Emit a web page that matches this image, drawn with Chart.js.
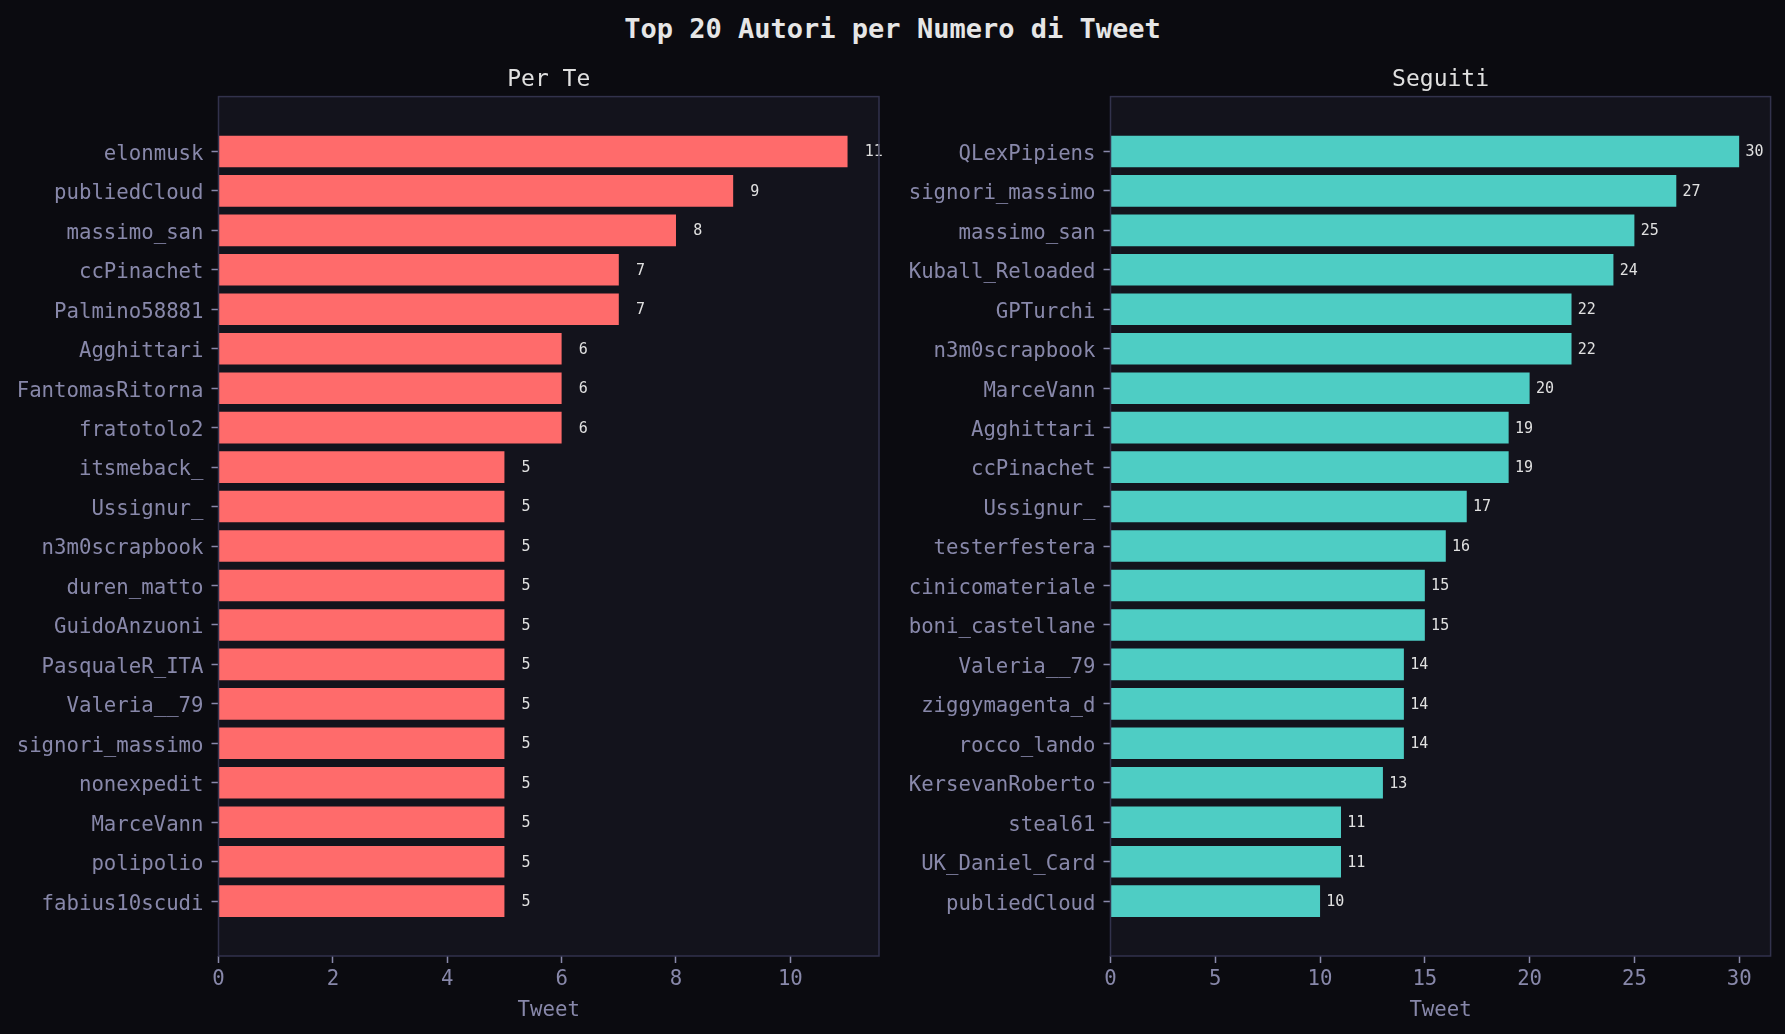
<!DOCTYPE html>
<html>
<head>
<meta charset="utf-8">
<script src="https://cdn.jsdelivr.net/npm/chart.js@4"></script>
<style>
  html, body { margin: 0; padding: 0; background: #0b0b10; }
  #wrap { position: relative; width: 1785px; height: 1034px; overflow: hidden; }
  #title {
    position: absolute; left: 0; top: 13px; width: 1785px; text-align: center;
    font: bold 27px "DejaVu Sans Mono", monospace; color: #e6e6e6; line-height: 32px;
  }
  canvas { position: absolute; top: 0; }
  #left { left: 0; }
  #right { left: 892px; }
</style>
</head>
<body>
<div id="wrap">
  <div id="title">Top 20 Autori per Numero di Tweet</div>
  <canvas id="left" width="892" height="1034"></canvas>
  <canvas id="right" width="893" height="1034"></canvas>
</div>
<script>
const perTeAuthors = ['elonmusk', 'publiedCloud', 'massimo_san', 'ccPinachet', 'Palmino58881', 'Agghittari',
    'FantomasRitorna', 'fratotolo2', 'itsmeback_', 'Ussignur_', 'n3m0scrapbook', 'duren_matto', 'GuidoAnzuoni',
    'PasqualeR_ITA', 'Valeria__79', 'signori_massimo', 'nonexpedit', 'MarceVann', 'polipolio', 'fabius10scudi'];
const perTeCounts = [11, 9, 8, 7, 7, 6, 6, 6, 5, 5, 5, 5, 5, 5, 5, 5, 5, 5, 5, 5];
const perTeTicks = [0, 2, 4, 6, 8, 10];

const seguitiAuthors = ['QLexPipiens', 'signori_massimo', 'massimo_san', 'Kuball_Reloaded', 'GPTurchi', 'n3m0scrapbook',
    'MarceVann', 'Agghittari', 'ccPinachet', 'Ussignur_', 'testerfestera', 'cinicomateriale', 'boni_castellane',
    'Valeria__79', 'ziggymagenta_d', 'rocco_lando', 'KersevanRoberto', 'steal61', 'UK_Daniel_Card', 'publiedCloud'];
const seguitiCounts = [30, 27, 25, 24, 22, 22, 20, 19, 19, 17, 16, 15, 15, 14, 14, 14, 13, 11, 11, 10];
const seguitiTicks = [0, 5, 10, 15, 20, 25, 30];

const FONT = '"DejaVu Sans Mono", monospace';
const labelColor = '#8888aa';
const spineColor = '#32324c';
const plotBg = '#13131c';

// plot background + the four spines
const framePlugin = {
    id: 'frame',
    beforeDraw(chart) {
        const a = chart.chartArea, ctx = chart.ctx;
        ctx.save();
        ctx.fillStyle = plotBg;
        ctx.fillRect(a.left, a.top, a.right - a.left, a.bottom - a.top);
        ctx.restore();
    },
    afterDraw(chart) {
        const a = chart.chartArea, ctx = chart.ctx;
        ctx.save();
        ctx.strokeStyle = spineColor;
        ctx.lineWidth = 1.5;
        ctx.strokeRect(a.left, a.top, a.right - a.left, a.bottom - a.top);
        ctx.restore();
    }
};

// count next to each bar
const valuePlugin = {
    id: 'values',
    afterDatasetsDraw(chart) {
        const ctx = chart.ctx;
        const xs = chart.scales.x, ys = chart.scales.y;
        ctx.save();
        ctx.fillStyle = '#e0e0e0';
        ctx.font = '15px ' + FONT;
        ctx.textAlign = 'left';
        ctx.textBaseline = 'middle';
        chart.data.datasets[0].data.forEach(p => {
            ctx.fillText(String(p.x), xs.getPixelForValue(p.x + 0.3), ys.getPixelForValue(p.y) + 1);
        });
        ctx.restore();
    }
};

function makeChart(id, title, names, counts, ticks, color) {
    const maxVal = Math.max(...counts) * 1.05;
    return new Chart(document.getElementById(id), {
        type: 'bar',
        data: {
            datasets: [{
                data: counts.map((v, i) => ({ x: v, y: i })),
                backgroundColor: color,
                borderWidth: 0,
                barPercentage: 0.8,
                categoryPercentage: 1.0
            }]
        },
        plugins: [framePlugin, valuePlugin],
        options: {
            indexAxis: 'y',
            responsive: false,
            animation: false,
            devicePixelRatio: 1,
            layout: { padding: { left: 0, right: id === 'left' ? 13 : 14.4, top: 0, bottom: 0 } },
            plugins: {
                legend: { display: false },
                tooltip: { enabled: false },
                title: {
                    display: true,
                    text: title,
                    fullSize: false,
                    color: '#e0e0e0',
                    font: { family: FONT, size: 23, weight: 'normal' },
                    padding: { top: 66, bottom: 3 }
                }
            },
            scales: {
                x: {
                    type: 'linear',
                    min: 0,
                    max: maxVal,
                    afterBuildTicks: (scale) => { scale.ticks = ticks.map(v => ({ value: v })); },
                    afterFit: (scale) => { scale.height = 78; },
                    grid: { drawOnChartArea: false, drawTicks: true, tickLength: 7, tickColor: labelColor, tickWidth: 1.5 },
                    border: { display: false },
                    ticks: { color: labelColor, font: { family: FONT, size: 20.7 }, padding: 4 },
                    title: {
                        display: true, text: 'Tweet', color: labelColor,
                        font: { family: FONT, size: 20.7 }, padding: { top: 11, bottom: 11 }
                    }
                },
                y: {
                    type: 'linear',
                    reverse: true,
                    offset: false,
                    min: -1.39,
                    max: 20.39,
                    afterBuildTicks: (scale) => { scale.ticks = names.map((_, i) => ({ value: i })); },
                    afterFit: (scale) => { scale.width = 218.5; },
                    grid: { offset: false, drawOnChartArea: false, drawTicks: true, tickLength: 7, tickColor: labelColor, tickWidth: 1.5 },
                    border: { display: false },
                    ticks: {
                        color: labelColor, font: { family: FONT, size: 20.7 }, padding: 8, autoSkip: false,
                        labelOffset: 3,
                        callback: (v) => names[v]
                    }
                }
            }
        }
    });
}

makeChart('left', 'Per Te', perTeAuthors, perTeCounts, perTeTicks, '#ff6b6b');
makeChart('right', 'Seguiti', seguitiAuthors, seguitiCounts, seguitiTicks, '#4ecdc4');
</script>
</body>
</html>
